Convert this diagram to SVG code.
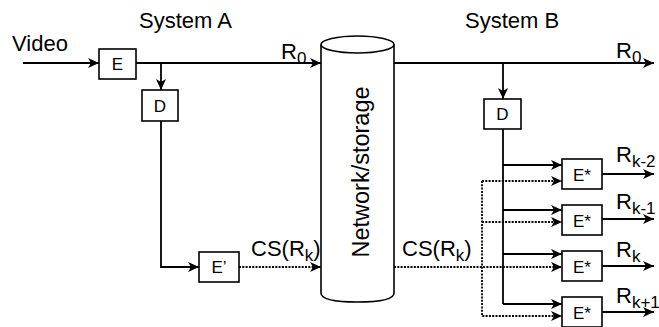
<svg xmlns="http://www.w3.org/2000/svg" width="659" height="327" viewBox="0 0 659 327">
<defs>
<marker id="ah" markerUnits="userSpaceOnUse" markerWidth="12" markerHeight="10" refX="11" refY="5" orient="auto">
<path d="M0,0 L11,5 L0,10 L3,5 z" fill="#000"/>
</marker>
<style>
.t{font-family:"Liberation Sans",Arial,sans-serif;font-size:22px;fill:#000}
.s{font-size:17px}
.b{font-family:"Liberation Sans",Arial,sans-serif;font-size:17px;fill:#000;text-anchor:middle}
.box{fill:#fff;stroke:#000;stroke-width:1.6}
.ln{fill:none;stroke:#000;stroke-width:1.8}
.dt{fill:none;stroke:#000;stroke-width:1.8;stroke-dasharray:2 1.3}
.ar{marker-end:url(#ah)}
</style>
</defs>
<rect width="659" height="327" fill="#fff"/>
<g id="connectors">
<path class="ln ar" d="M23,63 H99"/>
<path class="ln ar" d="M136,63 H321"/>
<path class="ln ar" d="M161,63 V90"/>
<path class="ln ar" d="M161,121 V267 H199"/>
<path class="dt ar" d="M239,267 H321"/>
<path class="ln ar" d="M394,63 H654"/>
<path class="ln ar" d="M503,63 V99"/>
<path class="ln" d="M503,129 V304"/>
<path class="ln ar" d="M503,165 H562"/>
<path class="ln ar" d="M503,210 H562"/>
<path class="ln ar" d="M503,254 H562"/>
<path class="ln ar" d="M503,304 H562"/>
<path class="dt ar" d="M394,267 H562"/>
<path class="dt ar" d="M482,181 H562"/>
<path class="dt ar" d="M482,222 H562"/>
<path class="dt ar" d="M482,181 V316 H562"/>
<path class="ln ar" d="M602,174 H654"/>
<path class="ln ar" d="M602,219 H654"/>
<path class="ln ar" d="M602,266 H654"/>
<path class="ln ar" d="M602,312 H654"/>
</g>
<g id="network">
<path class="box" d="M321,44.5 V293 Q321,302 357.5,302 Q394,302 394,293 V44.5"/>
<ellipse class="box" cx="357.5" cy="44.5" rx="36.5" ry="8.5"/>
<text class="t" style="font-size:23.5px" transform="translate(369,172) rotate(-90)" text-anchor="middle">Network/storage</text>
</g>
<g id="E"><rect class="box" x="99" y="49" width="37" height="30"/><text class="b" x="117.5" y="70">E</text></g>
<g id="D1"><rect class="box" x="142" y="90" width="36" height="31"/><text class="b" x="160" y="112">D</text></g>
<g id="Ep"><rect class="box" x="199" y="252" width="40" height="30"/><text class="b" x="219" y="273">E’</text></g>
<g id="D2"><rect class="box" x="484" y="99" width="37" height="30"/><text class="b" x="502.5" y="120">D</text></g>
<g id="Es1"><rect class="box" x="562" y="159" width="40" height="30"/><text class="b" x="582" y="181">E*</text></g>
<g id="Es2"><rect class="box" x="562" y="205" width="40" height="30"/><text class="b" x="582" y="227">E*</text></g>
<g id="Es3"><rect class="box" x="562" y="251" width="40" height="30"/><text class="b" x="582" y="273">E*</text></g>
<g id="Es4"><rect class="box" x="562" y="297" width="40" height="30"/><text class="b" x="582" y="319">E*</text></g>
<g id="labels">
<text class="t" x="12" y="51">Video</text>
<text class="t" x="139" y="28">System A</text>
<text class="t" x="465" y="28">System B</text>
<text class="t" x="281" y="59">R<tspan class="s" dy="5">0</tspan></text>
<text class="t" x="616" y="58">R<tspan class="s" dy="5">0</tspan></text>
<text class="t" x="251" y="256">CS(R<tspan class="s" dy="5">k</tspan><tspan dy="-5">)</tspan></text>
<text class="t" x="402" y="256">CS(R<tspan class="s" dy="5">k</tspan><tspan dy="-5">)</tspan></text>
<text class="t" x="616" y="162">R<tspan class="s" dy="5">k-2</tspan></text>
<text class="t" x="616" y="209">R<tspan class="s" dy="5">k-1</tspan></text>
<text class="t" x="616" y="257">R<tspan class="s" dy="5">k</tspan></text>
<text class="t" x="616" y="303">R<tspan class="s" dy="5">k+1</tspan></text>
</g>
</svg>
